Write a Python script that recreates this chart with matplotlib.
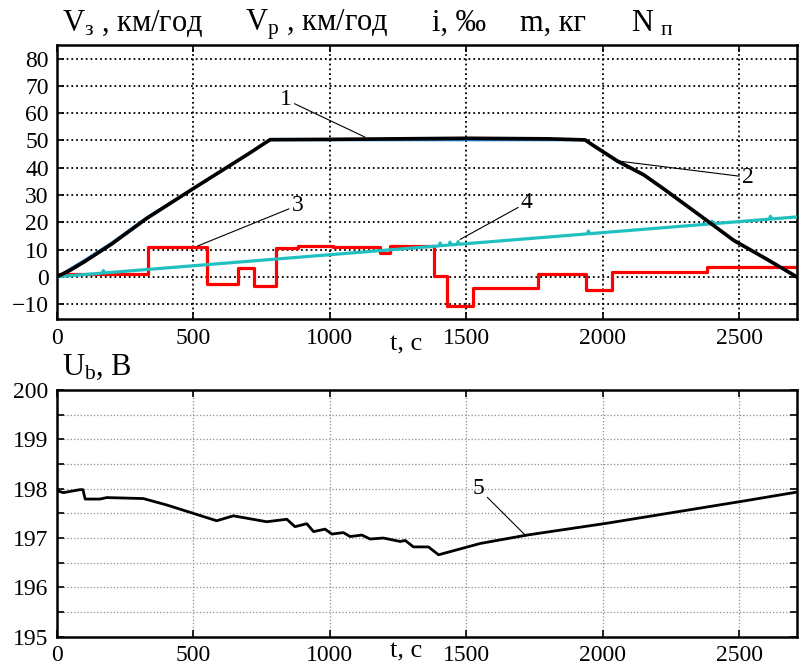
import matplotlib
matplotlib.use("Agg")
import matplotlib.pyplot as plt
import numpy as np

plt.rcParams["font.family"] = ["Liberation Serif", "DejaVu Serif"]
plt.rcParams["mathtext.fontset"] = "custom"
plt.rcParams["mathtext.rm"] = "Liberation Serif"
plt.rcParams["mathtext.it"] = "Liberation Serif:italic"

# speed, km/h (1 - actual, 2 - set)
vp_t = [0, 50, 100, 200, 330, 500, 700, 781, 1000, 1500, 1800, 1935, 1960, 2053, 2150, 2221, 2394, 2479, 2600, 2710]
vp = [0, 2.5, 5.5, 12, 21.5, 32.4, 45, 50.3, 50.4, 50.8, 50.6, 50.2, 48.5, 42.5, 37.4, 32.4, 19.7, 13.4, 6.5, 0]
vz_t = [0, 50, 100, 200, 330, 781, 1935, 1960, 2053, 2150, 2221, 2394, 2479, 2710]
vz = [0, 3.2, 6.2, 12.6, 22.0, 50.0, 50.0, 48.2, 42.0, 37.0, 32.0, 19.5, 13.0, 0]

# track gradient, per mille (3)
i_t = [0, 332, 551, 662, 720, 803, 882, 1012, 1184, 1220, 1380, 1429, 1523, 1764, 1938, 2033, 2382, 2710]
i_val = [1, 11, -2.8, 3.3, -3.3, 10.4, 11.4, 10.8, 8.6, 11.4, 0.4, -10.7, -4, 1, -4.9, 1.6, 3.7, 3.7]

# mass, kg (4)
m_t = [0, 165, 170, 174, 1400, 1404, 1408, 1436, 1440, 1444, 1466, 1470, 1474,
       1943, 1947, 1951, 2396, 2400, 2404, 2610, 2614, 2618, 2710]
m_val = [0, 1.34, 2.3, 1.41, 11.34, 12.4, 11.41, 11.63, 12.7, 11.70, 11.88, 12.9, 11.94,
         15.74, 16.8, 15.81, 19.41, 20.4, 19.47, 21.14, 22.2, 21.20, 21.95]

# bus voltage, V (5)
u_t = [0, 23, 84, 95, 103, 158, 182, 316, 402, 585, 646, 768, 842, 872, 915, 940, 982, 1007,
       1049, 1074, 1117, 1147, 1196, 1257, 1276, 1306, 1361, 1398, 1551, 1722, 2015, 2516, 2710]
u_val = [197.96, 197.92, 197.98, 197.98, 197.79, 197.79, 197.82, 197.80, 197.67, 197.35, 197.45,
         197.33, 197.38, 197.23, 197.29, 197.13, 197.18, 197.08, 197.11, 197.03, 197.06, 196.98,
         197.0, 196.93, 196.95, 196.82, 196.82, 196.66, 196.89, 197.06, 197.30, 197.75, 197.93]

xmax = 2712
fig = plt.figure(figsize=(8.01, 6.69), dpi=100)
ax1 = fig.add_axes([0.0712, 0.5227, 0.924, 0.41])
ax2 = fig.add_axes([0.0712, 0.0483, 0.924, 0.3687])

for ax in (ax1, ax2):
    ax.set_xlim(0, xmax)
    ax.set_xticks([0, 500, 1000, 1500, 2000, 2500])
    ax.tick_params(direction="in", top=True, right=True, length=5, width=1.2,
                   labelsize=17, pad=6)
    for s in ax.spines.values():
        s.set_linewidth(1.8)

# upper panel
ax1.plot(vz_t, vz, color="#1f77c4", lw=1.2, zorder=3)
ax1.plot(vp_t, vp, color="black", lw=2.6, zorder=4)
ax1.step(i_t, i_val, where="post", color="red", lw=2.3, zorder=2)
ax1.plot(m_t, m_val, color="#20c0c0", lw=2.3, zorder=3)
ax1.set_ylim(-15.6, 85)
ax1.set_yticks(np.arange(-10, 81, 10))
ax1.grid(True, color="black", linestyle=":", linewidth=1.3)
ax1.set_axisbelow(True)

lead = dict(arrowstyle="-", color="black", lw=0.8, shrinkA=0, shrinkB=0)
ax1.annotate("1", xy=(1129, 51.2), xytext=(860, 65), fontsize=17, ha="right", va="center",
             arrowprops=lead)
ax1.annotate("2", xy=(2053, 42.5), xytext=(2510, 36.5), fontsize=17, ha="left", va="center",
             arrowprops=lead)
ax1.annotate("3", xy=(513, 11.2), xytext=(860, 26.2), fontsize=17, ha="left", va="center",
             arrowprops=lead)
ax1.annotate("4", xy=(1477, 13.7), xytext=(1700, 27.2), fontsize=17, ha="left", va="center",
             arrowprops=lead)
ax1.text(1280, -20.8, "t, c", fontsize=19, ha="center", va="top")

# lower panel
ax2.plot(u_t, u_val, color="black", lw=2.0)
ax2.set_ylim(195, 200)
yt = np.arange(195, 200.01, 0.5)
ax2.set_yticks(yt)
ax2.set_yticklabels([f"{v:.0f}" if v == int(v) else "" for v in yt])
ax2.grid(True, color="0.55", linestyle=":", linewidth=0.9)
ax2.set_axisbelow(True)
ax2.annotate("5", xy=(1719, 197.04), xytext=(1545, 198.0), fontsize=17, ha="center", va="center",
             arrowprops=lead)
ax2.text(1280, 194.93, "t, c", fontsize=19, ha="center", va="top")

# axis captions
W, H = 801, 669
caps = [(62, r"V$_{\mathrm{з}}$ , км/год"), (245, r"V$_{\mathrm{р}}$ , км/год"),
        (432, "i, ‰"), (520, "m, кг"), (631, r"N $_{\mathrm{п}}$")]
for x, s in caps:
    fig.text(x / W, 1 - 31 / H, s, fontsize=22, ha="left", va="baseline")
fig.text(62 / W, 1 - 375 / H, r"U$_{\mathrm{b}}$, B", fontsize=22, ha="left", va="baseline")

fig.savefig("out.png", dpi=100)
